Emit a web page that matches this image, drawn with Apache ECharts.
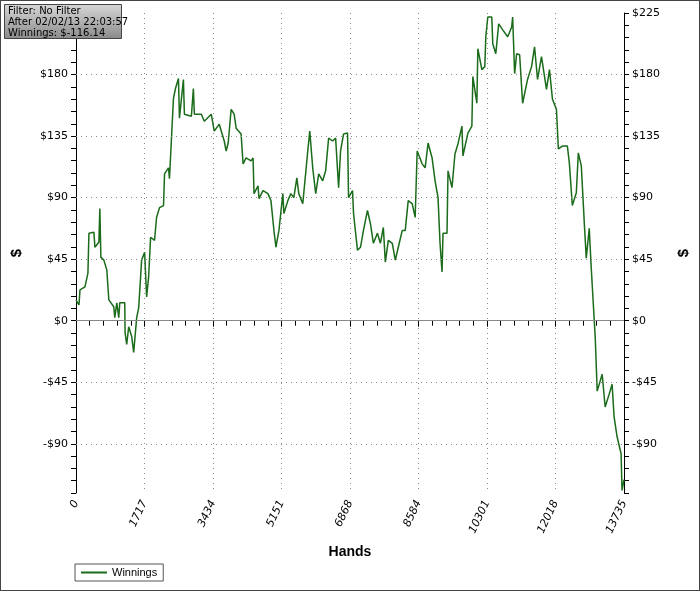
<!DOCTYPE html>
<html><head><meta charset="utf-8">
<script src="https://cdn.jsdelivr.net/npm/echarts@6/dist/echarts.min.js"></script>
<style>html,body{margin:0;padding:0;background:#fff}#c{width:698px;height:589px;border:1px solid #444}</style>
</head><body><div id="c"></div>
<script>
const hands = [0,75,100,224,299,324,449,474,573,598,623,698,773,823,947,972,1022,1072,1097,1222,1230,1271,1321,1396,1446,1521,1571,1645,1720,1770,1820,1870,1969,2019,2094,2194,2219,2318,2343,2393,2443,2493,2568,2593,2692,2717,2892,2942,2967,3141,3216,3390,3465,3590,3715,3764,3814,3889,3964,4014,4138,4188,4263,4388,4438,4462,4562,4587,4687,4811,4886,4961,5011,5086,5185,5210,5310,5385,5460,5535,5584,5684,5809,5859,5933,6008,6083,6183,6257,6332,6432,6507,6582,6631,6706,6806,6831,6931,6956,7055,7130,7205,7305,7379,7454,7554,7629,7703,7753,7828,7928,8003,8078,8177,8252,8327,8426,8501,8551,8676,8750,8825,8925,9000,9074,9124,9174,9199,9299,9324,9424,9498,9573,9673,9698,9823,9922,9947,10047,10072,10172,10246,10271,10321,10421,10446,10521,10595,10695,10820,10920,10944,10994,11044,11119,11194,11318,11418,11493,11568,11667,11792,11867,11942,12041,12091,12191,12316,12365,12440,12540,12590,12665,12739,12789,12864,12914,12964,13014,13063,13188,13263,13363,13437,13487,13562,13662,13686,13735];
const winnings = [15,11.6,22.5,24.7,34.8,63.9,64.6,53.7,57.3,82.0,46.5,44.3,37.0,15.2,10.2,2.2,13.1,2.2,13.1,13.1,-8.7,-17.4,-4.4,-11.6,-23.2,2.2,9.4,44.3,50.1,17.4,31.9,61.0,58.8,75.5,82.7,84.2,107.4,111.8,103.8,133.5,162.6,169.8,177.1,148.1,176.4,151.0,149.5,169.8,151.0,151.0,145.9,151.0,138.6,143.7,131.4,124.1,129.9,154.6,151.0,140.8,136.5,114.7,119.0,116.9,119.0,92.9,98.7,89.3,95.1,92.9,87.8,66.0,53.7,66.0,92.9,78.4,87.8,92.9,90.0,104.5,92.9,85.6,124.1,138.6,111.8,92.9,107.4,102.3,109.6,133.5,131.4,133.5,97.3,124.1,136.5,137.2,90.0,95.1,78.4,51.5,53.7,66.0,80.6,71.1,56.6,63.9,56.6,68.2,42.8,58.8,56.6,44.3,53.7,66.0,66.0,87.8,85.6,75.5,124.1,114.7,111.8,129.9,119.0,102.3,90.0,56.6,35.6,63.9,63.9,109.6,97.3,121.9,129.2,142.3,120.5,137.2,142.3,178.5,159.0,198.9,183.6,185.8,207.6,222.1,222.1,202.5,195.2,217.0,212.7,207.6,214.8,222.1,180.7,195.2,194.5,159.0,176.4,185.8,200.3,176.4,193.1,169.1,183.6,161.9,154.6,125.6,127.7,127.7,115.4,84.2,93.6,122.7,113.2,71.9,45.7,67.5,38.5,38.5,-12.3,-51.5,-39.2,-63.1,-53.7,-46.5,-70.4,-84.9,-97.3,-124.1,-116.14];
const infoLines = ['Filter: No Filter','After 02/02/13 22:03:57','Winnings: $-116.14'];
const yGridValues = [-90,-45,45,90,135,180];
const xMax = 13735, xStep = xMax/8;
const yMin = -126, yMax = 225, yStep = 9, yMajor = 45;
const isMajor = v => Math.abs(Math.round(v) % yMajor) === 0;

const chart = echarts.init(document.getElementById('c'));
const yAxisCommon = {
  type:'value', min:yMin, max:yMax, interval:yStep,
  name:'$', nameLocation:'middle', nameRotate:90, nameGap:52,
  nameTextStyle:{fontWeight:'bold',fontSize:15,color:'#000',fontFamily:'Arial'},
  axisLine:{show:true,lineStyle:{color:'#000'}},
  axisTick:{show:true,length:5,lineStyle:{color:'#000'}},
  splitLine:{show:false},
  axisLabel:{color:'#000',fontSize:11,fontFamily:'Tahoma, DejaVu Sans',
    formatter:v=> isMajor(v) ? (v<0 ? '-$'+(-Math.round(v)) : '$'+Math.round(v)) : ''},
};
chart.setOption({
  animation:false,
  grid:{left:74,right:75,top:12,bottom:97},
  xAxis:{type:'value',min:0,max:xMax,interval:xStep,
    name:'Hands',nameLocation:'middle',nameGap:52,
    nameTextStyle:{fontWeight:'bold',fontSize:14,color:'#000',fontFamily:'Arial'},
    axisLine:{lineStyle:{color:'#000'}},
    axisTick:{length:6,lineStyle:{color:'#000'}},
    minorTick:{show:true,splitNumber:5,length:5,lineStyle:{color:'#000'}},
    splitLine:{show:true,lineStyle:{color:'#888',type:[1,4]}},
    axisLabel:{rotate:65,color:'#000',fontSize:11,fontStyle:'italic',fontFamily:'Tahoma, DejaVu Sans',
      formatter:v=>String(Math.round(v)),showMinLabel:true,showMaxLabel:true}},
  yAxis:[
    Object.assign({},yAxisCommon,{position:'left',
      axisLabel:Object.assign({},yAxisCommon.axisLabel,{showMaxLabel:false})}),
    Object.assign({},yAxisCommon,{position:'right'})
  ],
  legend:{left:74,top:563,itemWidth:26,itemHeight:2,
    borderColor:'#555',borderWidth:1,padding:[3,6],
    textStyle:{fontSize:11,fontFamily:'Arial',color:'#000'},
    data:[{name:'Winnings',icon:'rect'}]},
  graphic:[
    {type:'rect',left:3,top:3,shape:{width:117,height:34},
      style:{fill:new echarts.graphic.LinearGradient(0,0,0,1,[{offset:0,color:'#d8d8d8'},{offset:1,color:'#8a8a8a'}]),stroke:'#444',lineWidth:1},z:100},
    {type:'text',left:7,top:5,style:{text:infoLines.join('\n'),fontSize:10,lineHeight:11,fontFamily:'Tahoma, DejaVu Sans',fill:'#000'},z:101}
  ],
  series:[
    {name:'grid',type:'line',data:[],silent:true,
      markLine:{silent:true,symbol:'none',label:{show:false},lineStyle:{color:'#888',type:[1,4],width:1},
        data:yGridValues.map(v=>({yAxis:v}))}},
    {name:'Winnings',type:'line',showSymbol:false,
    data:hands.map((h,i)=>[h,winnings[i]]),
    lineStyle:{color:'#1a6b1a',width:1.5},itemStyle:{color:'#1a6b1a'},
    markLine:{silent:true,symbol:'none',label:{show:false},lineStyle:{color:'#888',type:'solid',width:1.2},data:[{yAxis:0}]}}]
});
</script></body></html>
